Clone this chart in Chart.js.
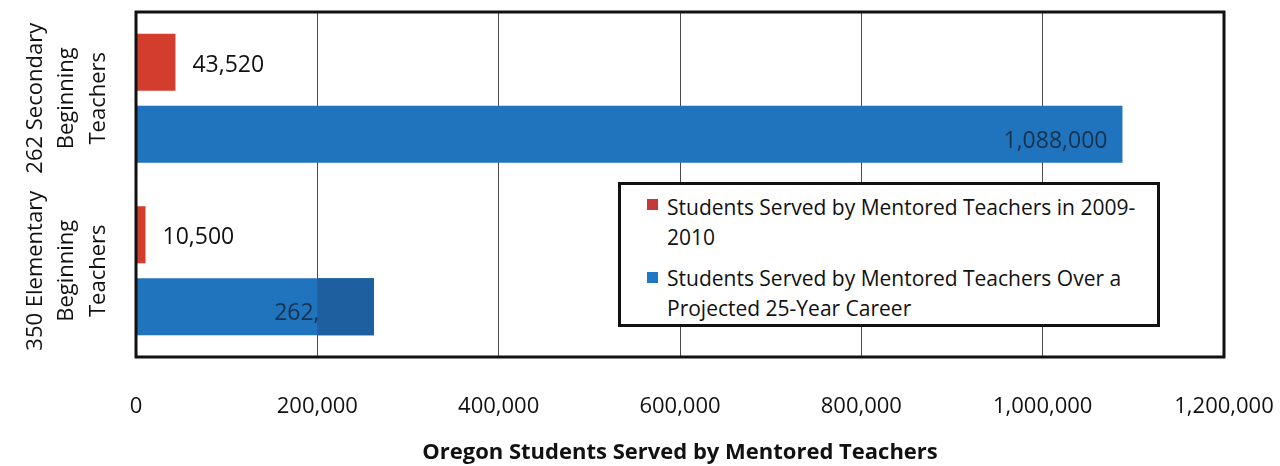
<!DOCTYPE html>
<html>
<head>
<meta charset="utf-8">
<script src="https://cdn.jsdelivr.net/npm/chart.js@4"></script>
<style>
  html, body { margin: 0; padding: 0; background: #ffffff; }
  #wrap { position: relative; width: 1280px; height: 466px; overflow: hidden; }
  #c { position: absolute; left: 0; top: 0; }
  #legend {
    position: absolute; left: 618px; top: 182px; width: 542px; height: 145px;
    box-sizing: border-box; border: 3px solid #111; background: #fff;
    font-family: 'Open Sans', sans-serif; font-size: 21px; color: #111;
  }
  .item { position: absolute; left: 46px; line-height: 30px; white-space: nowrap; }
  .mark { position: absolute; left: 26px; width: 11px; height: 11px; }
</style>
</head>
<body>
<div id="wrap">
  <canvas id="c" width="1280" height="466"></canvas>
  <div id="legend"></div>
</div>
<script>
// ---- data ----
const categories = ['262 Secondary Beginning Teachers', '350 Elementary Beginning Teachers'];
const yTickLines = [['262 Secondary', 'Beginning', 'Teachers'], ['350 Elementary', 'Beginning', 'Teachers']];
const seriesNames = ['Students Served by Mentored Teachers in 2009-2010',
                     'Students Served by Mentored Teachers Over a Projected 25-Year Career'];
const legendLines = [['Students Served by Mentored Teachers in 2009-', '2010'],
                     ['Students Served by Mentored Teachers Over a', 'Projected 25-Year Career']];
const served2009 = [43520, 10500];
const servedCareer = [1088000, 262500];
const redLabels = ['43,520', '10,500'];
const blueLabels = ['1,088,000', '262,500'];
const xTicks = [0, 200000, 400000, 600000, 800000, 1000000, 1200000];
const xTickLabels = ['0', '200,000', '400,000', '600,000', '800,000', '1,000,000', '1,200,000'];
const xTitle = 'Oregon Students Served by Mentored Teachers';

// ---- styles ----
const RED = '#d33d2e';
const BLUE = '#1f74bd';
const BLUE_DARK = '#1d5f9f';
const FONT = "'Open Sans', sans-serif";

// legend (HTML)
const legendColors = ['#c23a3c', '#1f78c4'];
const legendTops = [7, 78];
const markTops = [14, 87];
const legendEl = document.getElementById('legend');
legendLines.forEach((lines, i) => {
  const m = document.createElement('div');
  m.className = 'mark';
  m.style.top = markTops[i] + 'px';
  m.style.background = legendColors[i];
  legendEl.appendChild(m);
  const t = document.createElement('div');
  t.className = 'item';
  t.style.top = legendTops[i] + 'px';
  t.title = seriesNames[i];
  t.innerHTML = lines.join('<br>');
  legendEl.appendChild(t);
});

// measure widest y label line for centering rotated labels
const mctx = document.createElement('canvas').getContext('2d');
mctx.font = "22px 'Open Sans', sans-serif";
let widest = 0;
yTickLines.forEach(ls => ls.forEach(l => { widest = Math.max(widest, mctx.measureText(l).width); }));
const yPad = 69 - widest / 2;

const boxPlugin = {
  id: 'boxAndLabels',
  afterDatasetsDraw(chart) {
    const ctx = chart.ctx;
    const xs = chart.scales.x;
    ctx.save();
    // red labels (outside end)
    ctx.font = "23px 'Open Sans', sans-serif";
    ctx.fillStyle = '#111';
    ctx.textAlign = 'left';
    ctx.textBaseline = 'middle';
    chart.getDatasetMeta(0).data.forEach((bar, i) => {
      ctx.fillText(redLabels[i], bar.x + 17, bar.y + 3);
    });
    // blue labels (inside end)
    ctx.fillStyle = '#17324d';
    ctx.textAlign = 'right';
    chart.getDatasetMeta(1).data.forEach((bar, i) => {
      ctx.fillText(blueLabels[i], bar.x - 15, bar.y + 7);
    });
    // darker patch on the small blue bar (scan artifact), from 200,000 to its end
    const sb = chart.getDatasetMeta(1).data[1];
    const px = xs.getPixelForValue(200000);
    ctx.fillStyle = BLUE_DARK;
    ctx.fillRect(px, sb.y - sb.height / 2, sb.x - px, sb.height);
    // plot box
    const a = chart.chartArea;
    ctx.strokeStyle = '#111';
    ctx.lineWidth = 3;
    ctx.strokeRect(a.left, a.top, a.right - a.left, a.bottom - a.top);
    ctx.restore();
  }
};

new Chart(document.getElementById('c'), {
  type: 'bar',
  data: {
    labels: categories,
    datasets: [
      { label: seriesNames[0], data: served2009, backgroundColor: RED, borderWidth: 0 },
      { label: seriesNames[1], data: servedCareer, backgroundColor: BLUE, borderWidth: 0 }
    ]
  },
  options: {
    indexAxis: 'y',
    responsive: false,
    animation: false,
    events: [],
    layout: { padding: { left: 0, right: 56, top: 12, bottom: 0 } },
    datasets: { bar: { categoryPercentage: 0.835, barPercentage: 0.792 } },
    plugins: { legend: { display: false }, tooltip: { enabled: false } },
    scales: {
      x: {
        min: 0, max: 1200000,
        afterBuildTicks(s) { s.ticks = xTicks.map(v => ({ value: v })); },
        afterFit(s) { s.height = 109; s.paddingLeft = 0; s.paddingRight = 0; },
        grid: { color: '#4a4a4a', lineWidth: 1, drawTicks: false },
        border: { display: false },
        ticks: {
          padding: 37,
          font: { family: FONT, size: 22 },
          color: '#111',
          callback: (v, i) => xTickLabels[i]
        },
        title: {
          display: true, text: xTitle,
          font: { family: FONT, size: 22, weight: 'bold' },
          color: '#111',
          padding: { top: 0, bottom: 0 }
        }
      },
      y: {
        afterFit(s) { s.width = 136; s.paddingTop = 0; s.paddingBottom = 0; },
        grid: { display: false, drawTicks: false },
        border: { display: false },
        ticks: {
          autoSkip: false,
          minRotation: 90, maxRotation: 90,
          crossAlign: 'center',
          padding: yPad,
          font: { family: FONT, size: 22, lineHeight: 1.43 },
          color: '#111',
          callback: (v, i) => yTickLines[i]
        }
      }
    }
  },
  plugins: [boxPlugin]
});
</script>
</body>
</html>
